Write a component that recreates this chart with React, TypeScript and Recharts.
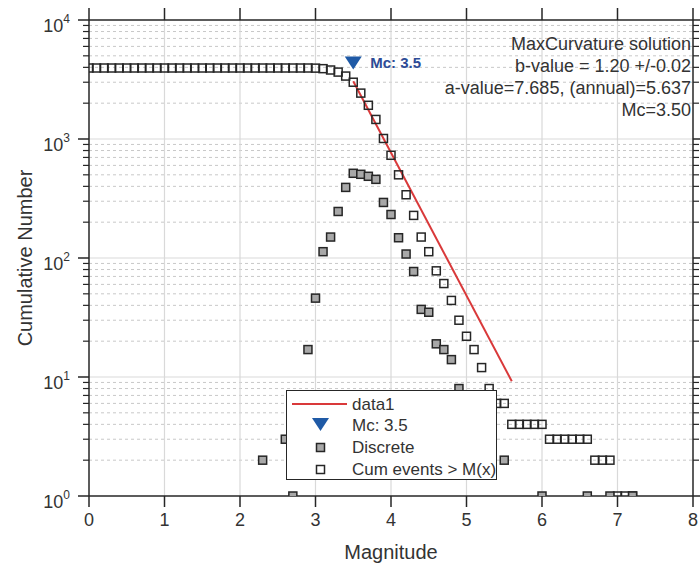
import React from "react";
import {
  ComposedChart,
  Scatter,
  XAxis,
  YAxis,
  ReferenceLine,
  Legend,
} from "recharts";

// cumulative number of events per magnitude bin
const cumMag = [
  0.0, 0.1, 0.2, 0.3, 0.4, 0.5, 0.6, 0.7, 0.8, 0.9,
  1.0, 1.1, 1.2, 1.3, 1.4, 1.5, 1.6, 1.7, 1.8, 1.9,
  2.0, 2.1, 2.2, 2.3, 2.4, 2.5, 2.6, 2.7, 2.8, 2.9,
  3.0, 3.1, 3.2, 3.3, 3.4, 3.5, 3.6, 3.7, 3.8, 3.9,
  4.0, 4.1, 4.2, 4.3, 4.4, 4.5, 4.6, 4.7, 4.8, 4.9,
  5.0, 5.1, 5.2, 5.3, 5.4, 5.5, 5.6, 5.7, 5.8, 5.9,
  6.0, 6.1, 6.2, 6.3, 6.4, 6.5, 6.6, 6.7, 6.8, 6.9,
  7.0, 7.1, 7.2,
];
const cumCount = [
  3950, 3950, 3950, 3950, 3950, 3950, 3950, 3950, 3950, 3950,
  3950, 3950, 3950, 3950, 3950, 3950, 3950, 3950, 3950, 3950,
  3950, 3950, 3950, 3950, 3950, 3950, 3950, 3950, 3950, 3950,
  3940, 3900, 3800, 3650, 3380, 3000, 2430, 1920, 1460, 1010,
  730, 500, 340, 228, 150, 113, 78, 61, 44, 30,
  22, 17, 12, 8, 6, 6, 4, 4, 4, 4,
  4, 3, 3, 3, 3, 3, 3, 2, 2, 2,
  1, 1, 1,
];

// discrete (non-cumulative) counts
const discMag = [
  2.3, 2.6, 2.7, 2.8, 2.9, 3.0, 3.1, 3.2, 3.3, 3.4, 3.5, 3.6, 3.7, 3.8, 3.9,
  4.0, 4.1, 4.2, 4.3, 4.4, 4.5, 4.6, 4.7, 4.8, 4.9, 5.0, 5.1, 5.2, 5.3, 5.5,
  6.0, 6.6, 6.9, 7.2,
];
const discCount = [
  2, 3, 1, 6, 17, 46, 113, 150, 246, 392, 515, 505, 486, 458, 293,
  232, 148, 108, 77, 37, 35, 19, 17, 14, 8, 5, 5, 4, 2, 2,
  1, 1, 1, 1,
];

// Gutenberg-Richter fit (data1), endpoints
const fitMag = [3.5, 5.6];
const fitCount = [3055, 9.2];

const mcMag = 3.5;
const mcCount = 4350;

const xTicks = [0, 1, 2, 3, 4, 5, 6, 7, 8];
const yTicks = [1, 10, 100, 1000, 10000];
const yMinor = [1, 10, 100, 1000].flatMap((d) =>
  [2, 3, 4, 5, 6, 7, 8, 9].map((k) => k * d)
);
const yAll = [...yTicks, ...yMinor].sort((a, b) => a - b);

const annotation = [
  "MaxCurvature solution",
  "b-value = 1.20 +/-0.02",
  "a-value=7.685, (annual)=5.637",
  "Mc=3.50",
];

const cumData = cumMag.map((m, i) => ({ m, n: cumCount[i] }));
const discData = discMag.map((m, i) => ({ m, n: discCount[i] }));
const fitData = fitMag.map((m, i) => ({ m, n: fitCount[i] }));
const mcData = [{ m: mcMag, n: mcCount }];

const FONT = "'Liberation Sans', Arial, sans-serif";
const AX = "#262626";
const TXT = "#333333";
const RED = "#d9393a";
const BLUE = "#1f5aa6";
const GRAY = "#a8a8a8";

const isMajor = (v: number) => yTicks.includes(v);

const LeftTick = ({ x, y, payload }: any) => {
  const v = payload.value;
  const major = isMajor(v);
  const exp = Math.round(Math.log10(v));
  return (
    <g>
      <line x1={x} x2={x - (major ? 11 : 6)} y1={y} y2={y} stroke={AX} strokeWidth={major ? 1.5 : 1.2} />
      {major && (
        <text x={x - 19} y={y + 12} textAnchor="end" fill={TXT} fontSize={18} fontFamily={FONT}>
          10
          <tspan dy={-9} fontSize={12}>
            {exp}
          </tspan>
        </text>
      )}
    </g>
  );
};

const RightTick = ({ x, y, payload }: any) => {
  const major = isMajor(payload.value);
  return <line x1={x} x2={x + (major ? 11 : 6)} y1={y} y2={y} stroke={AX} strokeWidth={major ? 1.5 : 1.2} />;
};

const BottomTick = ({ x, y, payload }: any) => (
  <g>
    <line x1={x} x2={x} y1={y} y2={y + 11} stroke={AX} strokeWidth={1.5} />
    <text x={x} y={y + 30} textAnchor="middle" fill={TXT} fontSize={18} fontFamily={FONT}>
      {payload.value}
    </text>
  </g>
);

const TopTick = ({ x, y }: any) => <line x1={x} x2={x} y1={y} y2={y - 12} stroke={AX} strokeWidth={1.5} />;

const square = (fill: string) => (p: any) => (
  <rect x={p.cx - 4} y={p.cy - 4} width={8} height={8} fill={fill} stroke={AX} strokeWidth={1.5} />
);

const McMarker = (p: any) => (
  <g>
    <path d={`M${p.cx - 8.5},${p.cy - 6.5} L${p.cx + 8.5},${p.cy - 6.5} L${p.cx},${p.cy + 6.5} Z`} fill={BLUE} />
    <text x={p.cx + 17} y={p.cy + 5} fill="#2d4b96" fontSize={15} fontWeight="bold" fontFamily={FONT}>
      Mc: 3.5
    </text>
  </g>
);

const LegendBox = () => (
  <div
    style={{
      width: 209,
      height: 88,
      border: `1.5px solid ${AX}`,
      background: "#fff",
      fontFamily: FONT,
      fontSize: 17,
      color: TXT,
      boxSizing: "content-box",
    }}
  >
    <svg width={209} height={88} style={{ display: "block" }}>
      <line x1={5} x2={60} y1={13} y2={13} stroke={RED} strokeWidth={2} />
      <path d="M25,27 L42,27 L33.5,40 Z" fill={BLUE} />
      <rect x={29.5} y={52.5} width={8} height={8} fill={GRAY} stroke={AX} strokeWidth={1.5} />
      <rect x={29.5} y={74.5} width={8} height={8} fill="#fff" stroke={AX} strokeWidth={1.5} />
      <text x={65} y={19} fontSize={17} fill={TXT} fontFamily={FONT}>data1</text>
      <text x={65} y={40} fontSize={17} fill={TXT} fontFamily={FONT}>Mc: 3.5</text>
      <text x={65} y={62} fontSize={17} fill={TXT} fontFamily={FONT}>Discrete</text>
      <text x={65} y={84} fontSize={17} fill={TXT} fontFamily={FONT}>Cum events &gt; M(x)</text>
    </svg>
  </div>
);

export default function App() {
  const ids = { xAxisId: "b", yAxisId: "l" };
  const axisLine = { stroke: AX, strokeWidth: 1.5 };
  return (
    <div style={{ position: "absolute", left: 0, top: 0, width: 700, height: 567, background: "#fff" }}>
      <ComposedChart width={700} height={567} margin={{ top: 0, right: 0, bottom: 0, left: 0 }}>
        <XAxis
          xAxisId="b"
          type="number"
          dataKey="m"
          domain={[0, 8]}
          ticks={xTicks}
          interval={0}
          height={71}
          tickSize={0}
          tickMargin={0}
          tickLine={false}
          tick={<BottomTick />}
          axisLine={axisLine}
          allowDataOverflow
        />
        <XAxis
          xAxisId="t"
          orientation="top"
          type="number"
          dataKey="m"
          domain={[0, 8]}
          ticks={xTicks}
          interval={0}
          height={20}
          tickSize={0}
          tickMargin={0}
          tickLine={false}
          tick={<TopTick />}
          axisLine={axisLine}
          allowDataOverflow
        />
        <YAxis
          yAxisId="l"
          scale="log"
          domain={[1, 10000]}
          ticks={yAll}
          interval={0}
          width={89}
          tickSize={0}
          tickMargin={0}
          tickLine={false}
          tick={<LeftTick />}
          axisLine={axisLine}
          allowDataOverflow
        />
        <YAxis
          yAxisId="r"
          orientation="right"
          scale="log"
          domain={[1, 10000]}
          ticks={yAll}
          interval={0}
          width={7}
          tickSize={0}
          tickMargin={0}
          tickLine={false}
          tick={<RightTick />}
          axisLine={axisLine}
          allowDataOverflow
        />

        {/* minor grid */}
        {yMinor.map((v) => (
          <ReferenceLine key={`mn${v}`} {...ids} y={v} stroke="#c8c8c8" strokeDasharray="3 3" strokeWidth={1} />
        ))}
        {/* major grid */}
        {yTicks.slice(1, -1).map((v) => (
          <ReferenceLine key={`mj${v}`} {...ids} y={v} stroke="#d9d9d9" strokeWidth={1.2} />
        ))}
        {xTicks.slice(1, -1).map((v) => (
          <ReferenceLine key={`vx${v}`} {...ids} x={v} stroke="#d9d9d9" strokeWidth={1.2} />
        ))}

        <Scatter
          {...ids}
          data={fitData}
          dataKey="n"
          line={{ stroke: RED, strokeWidth: 2 }}
          shape={() => <g />}
          isAnimationActive={false}
        />
        <Scatter {...ids} data={mcData} dataKey="n" shape={McMarker} isAnimationActive={false} />
        <Scatter {...ids} data={cumData} dataKey="n" shape={square("none")} isAnimationActive={false} />
        <Scatter {...ids} data={discData} dataKey="n" shape={square(GRAY)} isAnimationActive={false} />

        <Legend
          layout="horizontal"
          align="center"
          verticalAlign="middle"
          wrapperStyle={{ position: "absolute", left: 286, top: 390, width: "auto" }}
          content={() => <LegendBox />}
        />
      </ComposedChart>

      <div
        style={{
          position: "absolute",
          right: 9,
          top: 33,
          textAlign: "right",
          fontFamily: FONT,
          fontSize: 18,
          lineHeight: "22px",
          color: TXT,
          whiteSpace: "nowrap",
        }}
      >
        {annotation.map((t) => (
          <div key={t}>{t}</div>
        ))}
      </div>
      <div
        style={{
          position: "absolute",
          left: 391,
          top: 552,
          transform: "translate(-50%, -50%)",
          fontFamily: FONT,
          fontSize: 20,
          color: TXT,
          whiteSpace: "nowrap",
        }}
      >
        Magnitude
      </div>
      <div
        style={{
          position: "absolute",
          left: 25,
          top: 258,
          transform: "translate(-50%, -50%) rotate(-90deg)",
          fontFamily: FONT,
          fontSize: 20,
          color: TXT,
          whiteSpace: "nowrap",
        }}
      >
        Cumulative Number
      </div>
    </div>
  );
}
